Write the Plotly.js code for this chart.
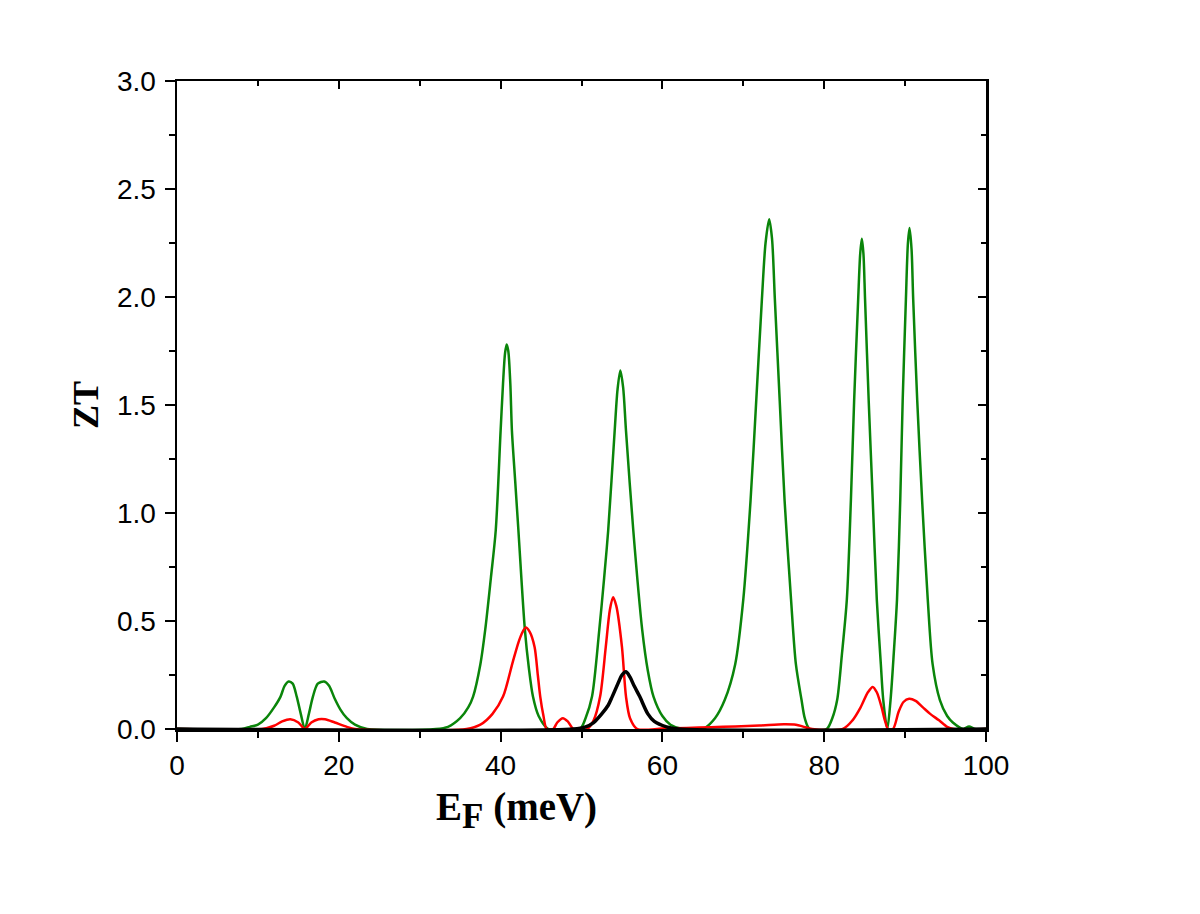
<!DOCTYPE html>
<html>
<head>
<meta charset="utf-8">
<script src="https://cdn.plot.ly/plotly-3.0.1.min.js"></script>
<style>
  body { margin: 0; background: #fff; }
  #plot { width: 1200px; height: 914px; }
</style>
</head>
<body>
<div id="plot"></div>
<script>
// green curve
var greenX = [0, 8, 9, 10, 11, 12, 12.8, 13.3, 13.8, 14.3, 14.8, 15.3, 15.8, 16.3, 16.8, 17.4, 18.2, 18.8, 19.5, 20.2, 21, 22, 23.5,
  32, 33.5, 35, 36, 36.6, 37.5, 38.1, 38.8, 39.4, 40, 40.3, 40.55, 40.75, 40.95, 41.2, 41.4, 41.8, 42.2, 43, 43.5, 44, 44.7, 45.9,
  49.8, 50.5, 51.3, 52.2, 52.8, 53.3, 54.1, 54.45, 54.8, 55.15, 55.5, 56.4, 57.5, 58.2, 58.9, 60, 61, 62.5,
  65, 66.5, 67.7, 69, 70, 70.9, 71.6, 72.3, 72.75, 73.2, 73.55, 73.9, 74.5, 75.1, 75.9, 76.5, 77.2, 77.6, 78.2,
  80.3, 81, 81.6, 82.2, 82.8, 83.3, 83.7, 84.2, 84.45, 84.65, 84.85, 85.05, 85.5, 86.0, 86.5, 87.0, 87.3, 87.8,
  88.2, 88.6, 89.0, 89.4, 89.7, 90.1, 90.35, 90.55, 90.8, 91.0, 91.5, 92.1, 92.8, 93.4, 94.3, 95.2, 95.9, 97.2, 97.9, 98.6, 100];
var greenY = [0, 0, 0.01, 0.02, 0.05, 0.1, 0.15, 0.2, 0.22, 0.21, 0.15, 0.07, 0.0, 0.07, 0.15, 0.21, 0.22, 0.2, 0.14, 0.09, 0.05, 0.02, 0,
  0, 0.01, 0.05, 0.1, 0.15, 0.3, 0.46, 0.7, 0.92, 1.38, 1.6, 1.74, 1.78, 1.75, 1.6, 1.38, 1.15, 0.92, 0.46, 0.28, 0.15, 0.06, 0,
  0, 0.05, 0.15, 0.46, 0.7, 0.92, 1.38, 1.57, 1.66, 1.58, 1.38, 0.92, 0.46, 0.27, 0.15, 0.06, 0.02, 0,
  0, 0.05, 0.134, 0.3, 0.6, 1.06, 1.52, 1.99, 2.25, 2.36, 2.27, 1.99, 1.52, 1.06, 0.6, 0.3, 0.134, 0.05, 0,
  0, 0.05, 0.134, 0.35, 0.6, 1.06, 1.52, 1.99, 2.2, 2.27, 2.2, 1.99, 1.52, 1.06, 0.6, 0.3, 0.134, 0,
  0.134, 0.35, 0.6, 1.06, 1.52, 1.99, 2.25, 2.32, 2.22, 1.99, 1.52, 1.06, 0.6, 0.3, 0.134, 0.06, 0.03, 0, 0.012, 0, 0];

// red curve
var redX = [0, 10.5, 12, 13, 14, 15, 15.8, 16.6, 17.5, 18.3, 19.5, 21, 22,
  35.8, 37.5, 39, 40.3, 41.5, 42.2, 42.6, 43.1, 43.6, 44.2, 44.6, 44.9, 45.3, 45.7, 46.5, 47.0, 47.7, 48.3, 49,
  50.7, 51.5, 52.3, 53.0, 53.5, 53.9, 54.3, 55.0, 55.5, 56.0, 56.9, 60, 63, 66, 69, 72, 75, 76.5, 77.5, 78.5,
  82.3, 83.5, 84.5, 85.4, 86.0, 86.5, 87.1, 87.5, 87.9, 88.5, 89.2, 89.8, 90.5, 91.3, 92.2, 93.1, 94.2, 95.2, 96, 100];
var redY = [0, 0, 0.015, 0.035, 0.045, 0.03, 0, 0.03, 0.045, 0.045, 0.03, 0.01, 0,
  0, 0.02, 0.07, 0.15, 0.31, 0.4, 0.44, 0.47, 0.45, 0.38, 0.25, 0.15, 0.06, 0, 0, 0.03, 0.05, 0.035, 0,
  0, 0.04, 0.15, 0.38, 0.55, 0.61, 0.57, 0.38, 0.15, 0.05, 0, 0.002, 0.005, 0.008, 0.012, 0.016, 0.022, 0.02, 0.01, 0,
  0, 0.04, 0.1, 0.17, 0.195, 0.17, 0.1, 0.04, 0, 0, 0.08, 0.125, 0.14, 0.13, 0.1, 0.07, 0.04, 0.01, 0, 0];

// black curve
var blackX = [0, 49, 50.5, 51.5, 52.5, 53.3, 53.8, 54.5, 55.0, 55.5, 56, 56.5, 57.2, 58.2, 59, 60.5, 62, 100];
var blackY = [0, 0, 0.01, 0.03, 0.07, 0.11, 0.15, 0.21, 0.25, 0.265, 0.24, 0.2, 0.15, 0.07, 0.035, 0.01, 0, 0];

var xTicks = [0, 20, 40, 60, 80, 100];
var yTicks = [0, 0.5, 1, 1.5, 2, 2.5, 3];
var yTickText = ['0.0', '0.5', '1.0', '1.5', '2.0', '2.5', '3.0'];

function curve(x, y, color, w) {
  return {
    x: x, y: y, type: 'scatter', mode: 'lines',
    line: {color: color, width: w, shape: 'spline', smoothing: 0.8},
    hoverinfo: 'skip', showlegend: false
  };
}

// invisible copy on the mirror axes so the top/right frame gets drawn
var mirror = curve(blackX, blackY, '#000', 1);
mirror.xaxis = 'x2';
mirror.yaxis = 'y2';
mirror.opacity = 0;

var data = [
  curve(greenX, greenY, '#0a850a', 2.5),
  curve(redX, redY, '#ff0000', 2.5),
  curve(blackX, blackY, '#000000', 3.5),
  mirror
];

var tickFont = {family: 'Liberation Sans, Arial, sans-serif', size: 28, color: '#000'};
var titleFont = {family: 'Liberation Serif, Times New Roman, serif', size: 36, color: '#000', weight: 'bold'};

var layout = {
  width: 1200,
  height: 914,
  margin: {l: 177, r: 214, t: 81, b: 185},
  paper_bgcolor: '#fff',
  plot_bgcolor: '#fff',
  showlegend: false,
  xaxis: {
    range: [0, 100],
    tickvals: xTicks,
    ticks: 'outside', ticklen: 10, tickwidth: 2, tickcolor: '#000',
    minor: {dtick: 10, tick0: 0, ticks: 'outside', ticklen: 6, tickwidth: 2, tickcolor: '#000'},
    showline: true, linewidth: 2.5, linecolor: '#000',
    showgrid: false, zeroline: false,
    tickfont: tickFont
  },
  yaxis: {
    range: [0, 3],
    tickvals: yTicks, ticktext: yTickText,
    ticks: 'outside', ticklen: 10, tickwidth: 2, tickcolor: '#000',
    minor: {dtick: 0.25, tick0: 0, ticks: 'outside', ticklen: 6, tickwidth: 2, tickcolor: '#000'},
    showline: true, linewidth: 2.5, linecolor: '#000',
    showgrid: false, zeroline: false,
    tickfont: tickFont,
    ticklabelstandoff: 3,
    title: {text: 'ZT', font: titleFont, standoff: 8}
  },
  xaxis2: {
    overlaying: 'x', side: 'top', anchor: 'y2', range: [0, 100],
    tickvals: xTicks, showticklabels: false,
    ticks: 'inside', ticklen: 8, tickwidth: 2, tickcolor: '#000',
    minor: {dtick: 10, tick0: 0, ticks: 'inside', ticklen: 5, tickwidth: 2, tickcolor: '#000'},
    showline: true, linewidth: 2.5, linecolor: '#000',
    showgrid: false, zeroline: false
  },
  yaxis2: {
    overlaying: 'y', side: 'right', anchor: 'x2', range: [0, 3],
    tickvals: yTicks, showticklabels: false,
    ticks: 'inside', ticklen: 8, tickwidth: 2, tickcolor: '#000',
    minor: {dtick: 0.25, tick0: 0, ticks: 'inside', ticklen: 5, tickwidth: 2, tickcolor: '#000'},
    showline: true, linewidth: 2.5, linecolor: '#000',
    showgrid: false, zeroline: false
  },
  annotations: [{
    text: 'E<sub><span style="font-size:35px">F</span></sub> (meV)',
    xref: 'paper', yref: 'paper',
    x: (516 - 177) / 809, y: -(810 - 729) / 648,
    xanchor: 'center', yanchor: 'middle',
    showarrow: false,
    font: {family: titleFont.family, size: 39, color: '#000', weight: 'bold'}
  }]
};

Plotly.newPlot('plot', data, layout, {displayModeBar: false, staticPlot: true});
</script>
</body>
</html>
